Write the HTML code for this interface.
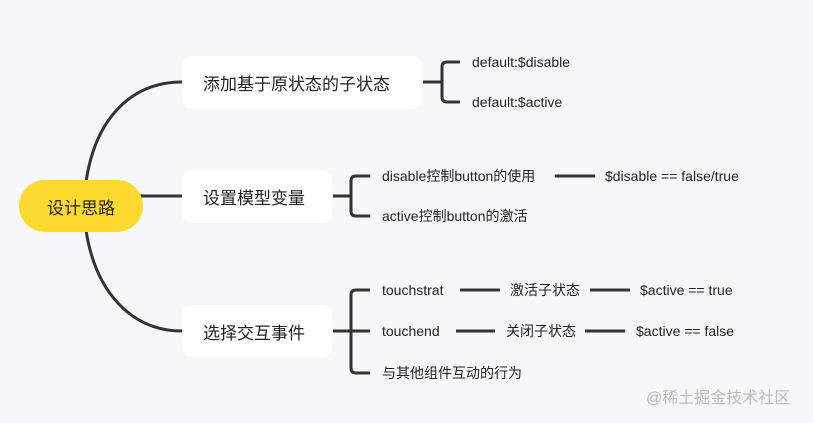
<!DOCTYPE html>
<html><head><meta charset="utf-8"><style>
body{margin:0;width:813px;height:423px;background:#f7f7f9;position:relative;overflow:hidden;font-family:"Liberation Sans","Noto Sans CJK SC",sans-serif;color:#222}
.b{position:absolute;background:#fff;border-radius:10px;font-size:17px;display:flex;align-items:center;padding-left:21px;box-sizing:border-box}
.t{position:absolute;font-size:14px;line-height:16px;transform:translateY(-8px);white-space:nowrap}
svg{position:absolute;left:0;top:0}
</style></head><body>
<svg width="813" height="423" fill="none" stroke="#333" stroke-width="3">
<path d="M86 182 C95 120 130 82 182 82"/>
<path d="M140 196 H182"/>
<path d="M86 230 C95 290 130 331 182 331"/>
<path d="M423 82 H442 M460 62 H447 Q442 62 442 67 V97 Q442 102 447 102 H460"/>
<path d="M333 196 H351 M370 176 H356 Q351 176 351 181 V211 Q351 216 356 216 H370"/>
<path d="M333 331 H370 M370 290 H356 Q351 290 351 295 V368 Q351 373 356 373 H370"/>
<path d="M555 176 H595 M460 290 H500 M590 290 H630 M456 331 H495 M585 331 H625"/>
</svg>
<div style="position:absolute;left:19px;top:180px;width:124px;height:52px;border-radius:26px;background:#fcd92e;font-size:17px;display:flex;align-items:center;justify-content:center">设计思路</div>
<div class="b" style="left:182px;top:56px;width:240px;height:53px">添加基于原状态的子状态</div>
<div class="b" style="left:182px;top:170px;width:150px;height:53px">设置模型变量</div>
<div class="b" style="left:182px;top:305px;width:150px;height:52px">选择交互事件</div>
<div class="t" style="left:472px;top:62px">default:$disable</div>
<div class="t" style="left:472px;top:102px">default:$active</div>
<div class="t" style="left:382px;top:176px">disable控制button的使用</div>
<div class="t" style="left:605px;top:176px">$disable == false/true</div>
<div class="t" style="left:382px;top:216px">active控制button的激活</div>
<div class="t" style="left:382px;top:290px">touchstrat</div>
<div class="t" style="left:510px;top:290px">激活子状态</div>
<div class="t" style="left:640px;top:290px">$active == true</div>
<div class="t" style="left:382px;top:331px">touchend</div>
<div class="t" style="left:506px;top:331px">关闭子状态</div>
<div class="t" style="left:636px;top:331px">$active == false</div>
<div class="t" style="left:382px;top:373px">与其他组件互动的行为</div>
<div class="t" style="left:646px;top:399px;font-size:16px;color:#bbb">@稀土掘金技术社区</div>
</body></html>
